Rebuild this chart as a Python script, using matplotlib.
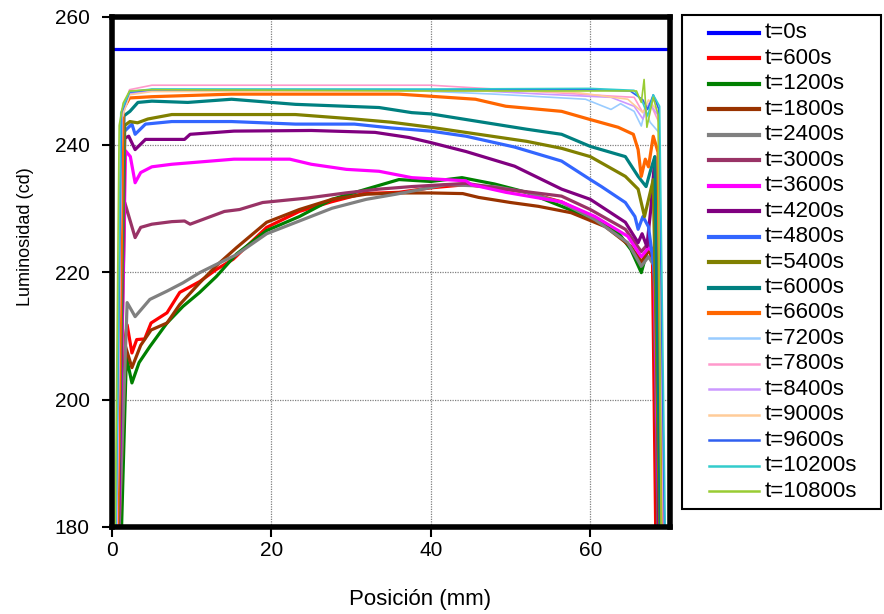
import matplotlib
matplotlib.use("Agg")
import matplotlib.pyplot as plt
from matplotlib.lines import Line2D
from matplotlib.patches import Rectangle

plt.rcParams["font.family"] = ["Liberation Sans", "DejaVu Sans"]

# luminosity profiles: position (mm) -> luminosity (cd)
pos_0 = [0.4, 69.7]
lum_0 = [255, 255]

pos_600 = [0.9, 1.7, 1.9, 2.5, 3.1, 4.1, 4.9, 6.9, 8.5, 11, 13.1, 15.2, 19.4, 23.5, 27.5, 31.5,
           36, 40, 44.4, 48, 52, 56.4, 60, 62.5, 64.5, 66, 66.5, 67.3, 67.8, 68.2]
lum_600 = [180, 210, 211.7, 207.3, 209.4, 209.5, 212, 213.6, 216.8, 218.5, 220.4, 222, 227, 229.5, 231, 232.3,
           232.5, 233.2, 233.7, 233.2, 232.5, 231, 228.7, 227, 224.6, 222.4, 221.5, 223.5, 222, 180]

pos_1200 = [1.2, 1.8, 2.5, 3.4, 4.75, 6.9, 8.9, 11, 13.1, 15.6, 19.4, 23.5, 27.6, 31.9, 36, 40,
            43.9, 48, 52, 56.4, 60.6, 63.5, 65.1, 66.4, 67.3, 68.0, 68.5]
lum_1200 = [180, 206.7, 202.6, 205.8, 208.3, 212, 214.6, 216.8, 219.3, 222.8, 226.5, 228.7, 231.4, 233, 234.5, 234.2,
            234.8, 233.8, 232.5, 230.3, 228.2, 226.2, 223.5, 219.9, 224, 222, 180]

pos_1800 = [0.9, 1.7, 2.5, 3.6, 4.9, 6.9, 8.5, 11, 13.1, 15.6, 19.4, 23.5, 27.6, 31.9, 36, 40,
            44, 46, 50, 53.5, 57.6, 61.9, 65.1, 66.4, 67.3, 68.0, 68.4]
lum_1800 = [180, 208.3, 205, 208.5, 210.9, 212, 214.9, 218.3, 221, 223.8, 227.8, 229.8, 231.4, 232.2, 232.4, 232.4,
            232.3, 231.7, 230.9, 230.3, 229.3, 227.1, 224, 221.5, 223.5, 222, 180]

pos_2400 = [0.9, 1.9, 2.9, 4.75, 6.9, 8.9, 11, 13.1, 15.6, 19.4, 23.5, 27.6, 31.9, 35.6, 41.9, 48,
            52, 56.4, 60.6, 64.7, 66.4, 67.3, 68.0, 68.5]
lum_2400 = [180, 215.2, 213, 215.7, 217, 218.3, 219.9, 221.2, 222.7, 226, 228, 230, 231.4, 232.2, 233.7, 233.4,
            232.5, 230.9, 228.2, 224.6, 220.9, 222.4, 221, 180]

pos_3000 = [0.8, 1.6, 2.9, 3.6, 5, 7.5, 9.1, 9.8, 14.1, 16, 18.9, 24.5, 29.3, 33.5, 37.6, 44.4,
            49.4, 56.4, 60, 64.4, 66.4, 67.3, 68.0, 68.5]
lum_3000 = [180, 230.9, 225.4, 227, 227.5, 227.9, 228, 227.5, 229.5, 229.8, 230.9, 231.6, 232.4, 233, 233.4, 233.9,
            233, 231.9, 229.8, 226.7, 223.2, 224.5, 223, 180]

pos_3600 = [0.8, 1.7, 2.3, 2.9, 3.6, 5, 7.5, 15.3, 22.3, 25, 29.4, 33.5, 37.6, 44.4, 45.1, 49.4,
            56.4, 60.6, 64.7, 66.4, 67.3, 68.0, 68.6]
lum_3600 = [180, 239, 238.1, 234, 235.6, 236.5, 236.9, 237.7, 237.7, 236.9, 236.1, 235.8, 234.8, 234.3, 233.7, 232.5,
            231, 228.7, 225.6, 222.4, 223.8, 223, 180]

pos_4200 = [0.8, 1.6, 2.1, 2.9, 4.2, 9.1, 9.8, 15.3, 25, 33, 37.25, 40, 44.4, 50.5, 56.4, 60,
            64.4, 66, 66.5, 67.1, 67.6, 68.1, 68.6]
lum_4200 = [180, 241, 241.3, 239.2, 240.8, 240.8, 241.6, 242.1, 242.2, 241.9, 241.1, 240.3, 238.9, 236.6, 233, 231.4,
            227.8, 224.6, 226, 224, 230, 238, 180]

pos_4800 = [0.7, 1.5, 2.5, 2.9, 4.2, 7.5, 15, 23, 30.4, 35, 40, 44.4, 50.5, 56.4, 60, 61.4,
            64.4, 65.6, 66, 66.6, 67.3, 67.9, 68.5, 69.0]
lum_4800 = [180, 242, 243.2, 241.6, 243.2, 243.6, 243.6, 243.2, 243.2, 242.6, 242.1, 241.3, 239.6, 237.4, 234.5, 233.4,
            230.9, 228.7, 226.7, 228.7, 227.1, 221.5, 213.6, 180]

pos_5400 = [0.7, 1.6, 2.25, 3.2, 4.5, 7.5, 15, 23, 30.4, 35, 40, 46, 52, 56.4, 60, 64.4,
            66, 66.8, 67.9, 68.7]
lum_5400 = [180, 243, 243.6, 243.4, 244, 244.7, 244.7, 244.7, 244, 243.5, 242.7, 241.6, 240.5, 239.4, 238.1, 235,
            233, 228.7, 234.5, 180]

pos_6000 = [0.7, 1.5, 2.25, 3.25, 5, 9.5, 15, 23, 33.5, 37.6, 40, 46, 52, 56.4, 60, 64.4,
            66, 67, 67.6, 68.1, 68.8]
lum_6000 = [180, 244.5, 245.2, 246.6, 246.8, 246.6, 247.1, 246.3, 245.8, 245, 244.8, 243.6, 242.4, 241.6, 239.7, 238.1,
            235, 233.4, 236.1, 238.1, 180]

pos_6600 = [0.7, 1.4, 2.2, 5, 15, 36, 45.6, 49.4, 56.4, 59.75, 63.5, 65.4, 66, 66.4, 66.9, 67.3,
            67.9, 68.5, 69.0]
lum_6600 = [180, 245.5, 247.3, 247.5, 247.9, 247.9, 247.1, 246, 245.2, 244, 242.7, 241.6, 239.2, 235, 237.7, 236.5,
            241.3, 238.8, 180]

pos_7200 = [0.6, 1.2, 2.2, 5, 35, 48, 59.4, 62.6, 63.8, 65.5, 66.4, 66.9, 67.5, 68.6, 69.2]
lum_7200 = [180, 244, 248, 248.6, 248.6, 247.9, 247.1, 245.5, 246.4, 245.2, 242.9, 245.5, 243.5, 241.9, 180]

pos_7800 = [0.6, 1.2, 2.2, 5, 40, 52, 62.6, 65.5, 66.6, 67.5, 68.6, 69.2]
lum_7800 = [180, 244.5, 248.6, 249.3, 249.3, 248.4, 247.6, 247.4, 245, 246.5, 243.5, 180]

pos_8400 = [0.6, 1.2, 2.2, 5, 45, 54, 62.6, 65.5, 66.6, 67.4, 68.6, 69.3]
lum_8400 = [180, 244, 248, 248.4, 248.5, 247.9, 247.4, 246, 244, 246.5, 244.4, 180]

pos_9000 = [0.5, 1.2, 2.2, 5, 50, 58, 64.7, 66.6, 67.3, 68.6, 69.3]
lum_9000 = [180, 244, 247.8, 248.3, 248.4, 248.2, 247.1, 245, 247, 245, 180]

pos_9600 = [0.5, 1.2, 2.2, 5, 40, 60, 65, 66.6, 67.2, 67.9, 68.6, 69.3]
lum_9600 = [180, 245, 248.2, 248.6, 248.6, 248.6, 248.4, 247, 245.5, 247.8, 245.5, 180]

pos_10200 = [0.5, 1.1, 2.2, 5, 40, 60, 65.5, 66.6, 67.2, 67.9, 68.7, 69.4]
lum_10200 = [180, 245, 248.3, 248.7, 248.7, 248.8, 248.5, 246.5, 244.5, 247.8, 246, 180]

pos_10800 = [0.4, 0.9, 1.4, 2.2, 5, 40, 65.8, 66.4, 66.75, 67.1, 67.9, 68.5, 68.9]
lum_10800 = [180, 243, 246.5, 248.4, 248.6, 248.4, 248.4, 246.6, 250.2, 242.7, 247.4, 244.7, 180]

labels = ["t=0s", "t=600s", "t=1200s", "t=1800s", "t=2400s", "t=3000s", "t=3600s",
          "t=4200s", "t=4800s", "t=5400s", "t=6000s", "t=6600s", "t=7200s", "t=7800s",
          "t=8400s", "t=9000s", "t=9600s", "t=10200s", "t=10800s"]
positions = [pos_0, pos_600, pos_1200, pos_1800, pos_2400, pos_3000, pos_3600, pos_4200,
             pos_4800, pos_5400, pos_6000, pos_6600, pos_7200, pos_7800, pos_8400, pos_9000,
             pos_9600, pos_10200, pos_10800]
lums = [lum_0, lum_600, lum_1200, lum_1800, lum_2400, lum_3000, lum_3600, lum_4200,
        lum_4800, lum_5400, lum_6000, lum_6600, lum_7200, lum_7800, lum_8400, lum_9000,
        lum_9600, lum_10200, lum_10800]
colors = ["#0000FF", "#FF0000", "#008000", "#993300", "#808080", "#993366", "#FF00FF",
          "#800080", "#3366FF", "#808000", "#008080", "#FF6600", "#99CCFF", "#FF99CC",
          "#CC99FF", "#FFCC99", "#3060F0", "#33CCCC", "#99CC33"]
n_thick = 12  # first series are drawn heavier

W, H = 884, 614
fig = plt.figure(figsize=(W / 100, H / 100), dpi=100)
ax = fig.add_axes([112 / W, 1 - 527 / H, 558 / W, 510 / H])

for i, (x, y, c) in enumerate(zip(positions, lums, colors)):
    ax.plot(x, y, color=c, lw=2.3 if i < n_thick else 1.2, zorder=3)

ax.set_xlim(0, 70)
ax.set_ylim(180, 260)
ax.set_xticks([0, 20, 40, 60])
ax.set_yticks([180, 200, 220, 240, 260])
ax.grid(True, color="#808080", linestyle=(0, (1, 1)), lw=0.9)
for s in ax.spines.values():
    s.set_linewidth(4)
    s.set_zorder(5)
ax.tick_params(direction="out", length=7, width=1.5, labelsize=15)
ax.tick_params(axis="y", pad=9)
ax.tick_params(axis="x", pad=3)
ax.set_xlabel("Posición (mm)", fontsize=16)
ax.set_ylabel("Luminosidad (cd)", fontsize=13)
ax.xaxis.set_label_coords((420 - 112) / 558, -(600 - 527) / 510, transform=ax.transAxes)
ax.xaxis.label.set_va("center")
ax.yaxis.set_label_coords(-(112 - 26) / 558, (527 - 237) / 510)
ax.yaxis.label.set_va("center")

# legend box drawn in figure pixels
fig.add_artist(Rectangle((682 / W, 1 - 509 / H), 199 / W, 494 / H, transform=fig.transFigure,
                         facecolor="white", edgecolor="black", lw=1.5))
for i, (lab, c) in enumerate(zip(labels, colors)):
    yy = 1 - (33 + 25.45 * i) / H
    fig.add_artist(Line2D([709 / W, 759 / W], [yy, yy], transform=fig.transFigure,
                          color=c, lw=3 if i < n_thick else 1.8))
    fig.text(765 / W, yy, lab, fontsize=16, va="center", ha="left")

fig.savefig("out.png", dpi=100)
